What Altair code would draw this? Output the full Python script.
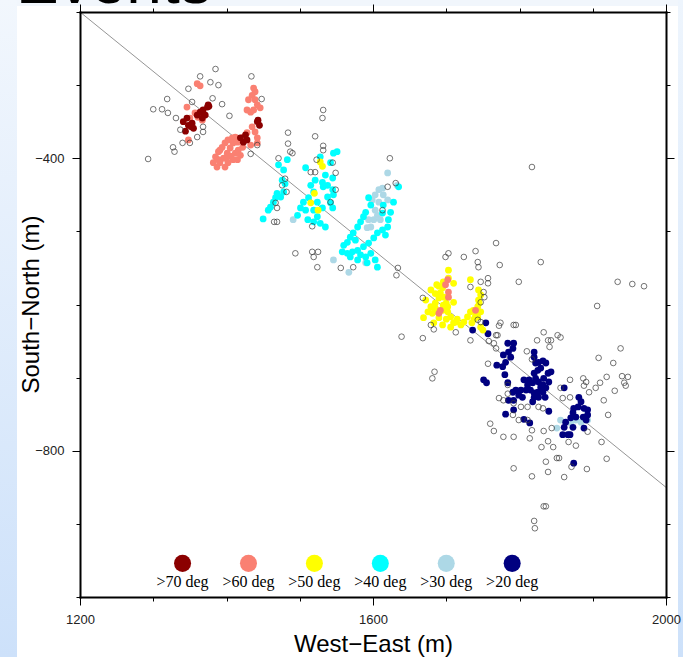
import altair as alt
import pandas as pd

# ---------------- data (metres) ----------------
deg70_x = [1346, 1348, 1353, 1355, 1344, 1360, 1364, 1368, 1374, 1376, 1371, 1367, 1341, 1352, 1375,
           1426, 1428, 1423, 1442, 1445, 1443, 1419]
deg70_y = [-345, -355, -352, -359, -363, -341, -337, -334, -330, -329, -341, -345, -350, -357, -327,
           -368, -375, -378, -350, -355, -348, -372]

deg60_x = [1360, 1364, 1346, 1348, 1361, 1367, 1353, 1357, 1368, 1350,
           1437, 1439, 1435, 1430, 1439, 1442, 1446, 1428, 1433, 1437,
           1435, 1439, 1442, 1442, 1433,
           1385, 1382, 1389, 1394, 1398, 1402, 1408, 1412, 1409, 1405, 1401, 1396, 1402, 1409, 1415,
           1419, 1416, 1412, 1391, 1387, 1398, 1422, 1415, 1423, 1428, 1391, 1400, 1406, 1389,
           1702, 1699, 1703, 1703, 1692, 1690, 1740]
deg60_y = [-298, -301, -330, -375, -344, -348, -356, -338, -338, -345,
           -304, -309, -314, -320, -320, -327, -331, -334, -337, -334,
           -357, -364, -372, -379, -382,
           -398, -406, -391, -385, -379, -375, -372, -371, -379, -386, -393, -400, -406, -402, -402,
           -396, -389, -393, -406, -412, -412, -385, -378, -371, -365, -389, -400, -397, -402,
           -566, -573, -583, -590, -608, -612, -608]

deg50_x = [1528, 1531, 1515, 1525, 1520,
           1696, 1703, 1710, 1695, 1692, 1690, 1685, 1679, 1679, 1675, 1669, 1681, 1688, 1695, 1702,
           1706, 1713, 1720, 1724, 1729, 1733, 1737, 1743, 1744, 1747, 1744, 1747, 1743, 1733, 1706,
           1695, 1683, 1703, 1702, 1710, 1696, 1747, 1750, 1672, 1687,
           1685, 1690, 1697, 1700, 1685, 1690, 1700, 1710, 1715, 1740, 1745, 1738, 1735]
deg50_y = [-405, -411, -461, -471, -448,
           -569, -564, -571, -577, -584, -591, -598, -580, -603, -610, -618, -612, -610, -608, -610,
           -617, -624, -628, -624, -617, -610, -608, -603, -594, -587, -580, -610, -617, -566, -631,
           -628, -625, -553, -603, -597, -601, -631, -635, -594, -573,
           -585, -575, -590, -598, -605, -618, -620, -625, -620, -615, -598, -620, -625]

deg40_x = [1471, 1478, 1476, 1480, 1478, 1474, 1467, 1464, 1460, 1457, 1450, 1469, 1483,
           1508, 1535, 1545, 1546, 1551, 1528, 1542, 1538, 1532, 1545, 1519, 1512, 1524, 1505, 1501,
           1497, 1508, 1519, 1531, 1542, 1545, 1524, 1528, 1535, 1519, 1511, 1546, 1538, 1531, 1521, 1515,
           1594, 1597, 1590, 1587, 1583, 1579, 1573, 1569, 1565, 1560, 1558, 1565, 1572, 1579, 1583,
           1590, 1597, 1603, 1606, 1592, 1579, 1569, 1587, 1594, 1601, 1606, 1613, 1617, 1620, 1621,
           1624, 1628, 1613, 1614, 1635, 1576]
deg40_y = [-409, -416, -430, -435, -446, -453, -454, -460, -467, -471, -483, -448, -402,
           -413, -423, -427, -393, -391, -398, -406, -437, -439, -443, -446, -454, -460, -460, -468,
           -478, -471, -471, -468, -461, -468, -480, -489, -494, -487, -484, -450, -453, -433, -430, -437,
           -454, -464, -474, -480, -487, -494, -502, -508, -515, -519, -528, -530, -528, -526, -532,
           -535, -530, -539, -549, -543, -539, -535, -521, -516, -509, -502, -498, -505, -494, -484,
           -474, -460, -475, -464, -439, -512]

deg30_x = [1620, 1613, 1608, 1603, 1599, 1608, 1614, 1620, 1603, 1606, 1601, 1594, 1597, 1592, 1610,
           1546, 1567, 1590, 1491, 1633,
           1856, 1870, 1867, 1891, 1893, 1877, 1884, 1851]
deg30_y = [-420, -441, -443, -450, -457, -460, -450, -457, -471, -478, -484, -484, -494, -495, -484,
           -539, -556, -543, -484, -437,
           -758, -762, -778, -744, -758, -758, -761, -769]

deg20_x = [1736, 1754, 1757, 1751, 1755, 1784, 1792, 1791, 1785, 1788, 1778, 1781, 1777, 1769, 1780,
           1784, 1791, 1792, 1785, 1792, 1781, 1806, 1814, 1820, 1820, 1822, 1825, 1826, 1832, 1836,
           1829, 1820, 1839, 1843, 1833, 1840, 1832, 1826, 1822, 1818, 1813, 1811, 1809, 1815, 1820,
           1825, 1832, 1826, 1820, 1818, 1804, 1799, 1795, 1802, 1806, 1835, 1840, 1829, 1836,
           1861, 1881, 1884, 1880, 1874, 1873, 1877, 1870, 1863, 1861, 1859, 1866, 1869, 1873, 1888,
           1893, 1891, 1887, 1893, 1888, 1874]
deg20_y = [-635, -625, -640, -703, -707, -653, -653, -660, -665, -672, -669, -679, -685, -683, -696,
           -707, -720, -731, -731, -744, -750, -757, -762, -665, -672, -680, -690, -679, -677, -680,
           -687, -694, -694, -692, -701, -706, -710, -706, -701, -707, -703, -710, -717, -717, -721,
           -720, -720, -727, -727, -733, -727, -724, -717, -717, -703, -727, -746, -713, -714,
           -714, -727, -733, -740, -742, -748, -754, -755, -761, -768, -778, -778, -778, -768, -742,
           -751, -758, -754, -744, -769, -817]

all_x = [1385, 1364, 1378, 1389, 1434, 1348, 1319, 1300, 1312, 1320, 1331, 1353, 1381, 1394, 1404,
         1448, 1368, 1368, 1360, 1337, 1340, 1350, 1327, 1329, 1293, 1433, 1442,
         1484, 1484, 1487, 1471, 1532, 1531, 1521, 1532, 1532, 1523, 1515, 1521, 1545, 1549, 1549,
         1542, 1517, 1480, 1476, 1482, 1467, 1469, 1465, 1469, 1490, 1494, 1517, 1525, 1519, 1524,
         1556, 1573, 1623, 1620, 1631, 1634, 1632, 1613,
         1699, 1703, 1724, 1740, 1743, 1744, 1768, 1773, 1799, 1747, 1757, 1757, 1733, 1751, 1752,
         1747, 1668, 1639, 1668, 1743, 1679, 1683, 1747, 1713, 1733, 1768, 1772, 1792, 1768, 1684,
         1681, 1829, 1817,
         1774, 1795, 1770, 1757, 1758, 1765, 1810, 1824, 1839, 1843, 1852, 1856, 1833, 1841, 1817,
         1784, 1784, 1772, 1778, 1792, 1802, 1811, 1826, 1832, 1791, 1799, 1811, 1760, 1765, 1778,
         1792, 1814, 1817, 1833, 1844, 1830, 1839, 1846, 1877, 1867, 1912, 1919, 1892, 1871, 1851,
         1854, 1836, 1839, 1817, 1861, 1792, 1833, 1836, 1820, 1821, 1856, 1869, 1859, 1869, 1887,
         1891, 1888, 1895, 1904, 1910, 1908, 1928, 1938, 1919, 1940, 1948, 1945, 1943, 1930, 1915,
         1921, 1893, 1934, 1954, 1970, 1906]
all_y = [-278, -288, -296, -300, -288, -305, -319, -333, -333, -338, -345, -323, -318, -326, -342,
         -319, -357, -364, -371, -361, -379, -379, -385, -391, -401, -394, -382,
         -365, -380, -391, -400, -334, -345, -370, -383, -389, -402, -419, -419, -406, -420, -443,
         -460, -493, -428, -437, -446, -461, -468, -487, -487, -393, -530, -528, -528, -535, -549,
         -550, -549, -400, -439, -434, -550, -560, -471,
         -535, -530, -535, -527, -542, -549, -516, -546, -569, -569, -564, -571, -576, -583, -590,
         -597, -591, -644, -646, -621, -628, -634, -624, -638, -649, -642, -629, -628, -660, -692,
         -701, -542, -412,
         -625, -628, -642, -681, -650, -653, -664, -649, -649, -649, -642, -645, -638, -658, -675,
         -710, -722, -728, -731, -735, -740, -740, -740, -742, -751, -758, -758, -763, -773, -781,
         -781, -783, -772, -773, -769, -795, -787, -795, -793, -788, -788, -811, -825, -822, -810,
         -810, -815, -829, -835, -836, -824, -876, -876, -896, -906, -714, -703, -728, -727, -701,
         -706, -711, -720, -714, -707, -673, -680, -660, -699, -698, -699, -711, -707, -718, -731,
         -751, -774, -569, -572, -575, -602]

trend_x = [1200, 2000]
trend_y = [-200, -850]

categories = [">70 deg", ">60 deg", ">50 deg", ">40 deg", ">30 deg", ">20 deg"]
colors = ["#8b0000", "#fa8072", "#ffff00", "#00ffff", "#add8e6", "#000080"]
x_ticks = [1200, 1300, 1400, 1500, 1600, 1700, 1800, 1900, 2000]
y_ticks = [-1000, -900, -800, -700, -600, -500, -400, -300, -200]

# ---------------- tables ----------------
series = {
    ">70 deg": (deg70_x, deg70_y), ">60 deg": (deg60_x, deg60_y), ">50 deg": (deg50_x, deg50_y),
    ">40 deg": (deg40_x, deg40_y), ">30 deg": (deg30_x, deg30_y), ">20 deg": (deg20_x, deg20_y),
}
draw_order = [">30 deg", ">20 deg", ">40 deg", ">50 deg", ">60 deg", ">70 deg"]
rows = []
for cat in draw_order:
    xs_, ys_ = series[cat]
    rows += [{"x": a, "y": b, "cat": cat} for a, b in zip(xs_, ys_)]
filled_df = pd.DataFrame(rows)
open_df = pd.DataFrame({"x": all_x, "y": all_y})
trend_df = pd.DataFrame({"x": trend_x, "y": trend_y})
legend_df = pd.DataFrame({
    "cat": categories,
    "lx": [1340 + 90 * i for i in range(len(categories))],
    "ly": -954,
    "ty": -979,
})
one = pd.DataFrame({"t": ["Events"]})

xs = alt.Scale(domain=[1200, 2000], nice=False, zero=False)
ys = alt.Scale(domain=[-1000, -200], nice=False, zero=False)
cs = alt.Scale(domain=categories, range=colors)

major = "datum.value % 400 === 0"
tick_size = {"condition": {"test": major, "value": 8}, "value": 4}
common = dict(grid=False, domain=True, domainColor="black", domainWidth=2, domainCap="square",
              tickColor="black", tickWidth=1, tickSize=tick_size, format="d", zindex=1,
              labelFont="Liberation Sans", labelFontSize=13, labelColor="#222",
              titleFont="Liberation Sans", titleFontSize=24, titleFontWeight="normal",
              titleColor="black", labelOverlap=False, labelFlush=False)

ax_bottom = alt.Axis(orient="bottom", values=x_ticks, labelExpr=f"{major} ? datum.label : ''",
                     labelPadding=8, title="West−East (m)", titlePadding=6, **common)
ax_top = alt.Axis(orient="top", values=x_ticks, labels=False, title=None, **common)
ay_left = alt.Axis(orient="left", values=y_ticks, labelExpr=f"{major} ? datum.label : ''",
                   labelPadding=8, title="South−North (m)", titleX=-42, titleY=292,
                   titleBaseline="alphabetic", **common)
ay_right = alt.Axis(orient="right", values=y_ticks, labels=False, title=None, **common)

grad = lambda top: {"gradient": "linear", "x1": 0, "x2": 0, "y1": 0, "y2": 1,
                    "stops": [{"offset": 0, "color": top}, {"offset": 1, "color": "#cde1fa"}]}
strip_left = alt.Chart(one).mark_rect(fill=grad("#f2f7fd")).encode(
    x=alt.value(-80), x2=alt.value(-63), y=alt.value(-12), y2=alt.value(645))
strip_right = alt.Chart(one).mark_rect(fill=grad("#eef5fd")).encode(
    x=alt.value(598), x2=alt.value(603), y=alt.value(-12), y2=alt.value(645))
strip_top = alt.Chart(one).mark_rect(fill="#f1f6fc").encode(
    x=alt.value(-80), x2=alt.value(603), y=alt.value(-12), y2=alt.value(-6))
head = alt.Chart(one).mark_text(align="left", baseline="alphabetic", font="Liberation Sans",
                                fontSize=64, color="black").encode(
    text="t:N", x=alt.value(-64), y=alt.value(-9))

line = alt.Chart(trend_df).mark_line(color="#7a7a7a", strokeWidth=0.8, clip=True).encode(
    x=alt.X("x:Q", scale=xs, axis=ax_bottom), y=alt.Y("y:Q", scale=ys, axis=ay_left))

filled = alt.Chart(filled_df).mark_circle(size=46, opacity=1).encode(
    x=alt.X("x:Q", scale=xs, axis=None), y=alt.Y("y:Q", scale=ys, axis=None),
    color=alt.Color("cat:N", scale=cs, legend=None))

opened = alt.Chart(open_df).mark_point(shape="circle", filled=False, color="#3a3a3a",
                                       strokeWidth=0.7, size=32, opacity=1).encode(
    x=alt.X("x:Q", scale=xs, axis=ax_top), y=alt.Y("y:Q", scale=ys, axis=ay_right))

leg_dots = alt.Chart(legend_df).mark_circle(size=290, opacity=1).encode(
    x=alt.X("lx:Q", scale=xs, axis=None), y=alt.Y("ly:Q", scale=ys, axis=None),
    color=alt.Color("cat:N", scale=cs, legend=None))
leg_text = alt.Chart(legend_df).mark_text(font="Liberation Serif", fontSize=16, color="black",
                                          baseline="middle", align="center").encode(
    x=alt.X("lx:Q", scale=xs, axis=None), y=alt.Y("ty:Q", scale=ys, axis=None), text="cat:N")

chart = alt.layer(
    strip_top, strip_left, strip_right, head, line, filled, opened, leg_dots, leg_text
).resolve_axis(x="independent", y="independent").properties(
    width=586, height=585,
    autosize=alt.AutoSizeParams(type="none"),
    padding={"left": 80, "top": 12, "right": 17, "bottom": 60},
    background="white",
).configure_view(stroke=None)

chart.save("out.html", embed_options={"renderer": "svg", "actions": False})
